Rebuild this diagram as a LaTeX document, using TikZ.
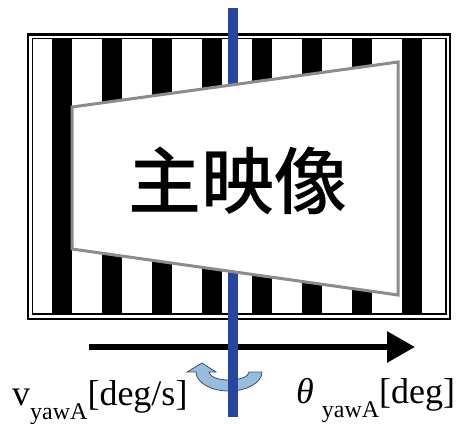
\documentclass[tikz,border=0pt]{standalone}
\usepackage{fontspec}
\setmainfont{Liberation Serif}
\newfontfamily\cjk{Noto Sans CJK JP Medium}
\usetikzlibrary{arrows.meta}
\definecolor{axisblue}{RGB}{40,70,160}
\definecolor{trapgray}{RGB}{140,140,140}
\definecolor{arrowfill}{RGB}{150,190,220}
\definecolor{arrowline}{RGB}{60,80,110}
\tikzset{
  stripe/.style={fill=black},
  screen/.style={draw=trapgray, line width=3pt, fill=white, line join=miter},
  axisline/.style={draw=axisblue, line width=10pt},
  dirarrow/.style={line width=6pt, -{Triangle[length=28pt,width=30pt]}},
  rotarrow/.style={fill=arrowfill, draw=arrowline, line width=0.8pt},
  lbl/.style={inner sep=0pt, anchor=base west},
}
\begin{document}
\begin{tikzpicture}[x=1pt,y=-1pt]
\useasboundingbox (0,0) rectangle (462,423);
% direction arrow
\coordinate (astart) at (89,347);
\coordinate (aend) at (415,347);
\draw[dirarrow] (astart) -- (aend);
% rotation arrow
\path[rotarrow] (262,372) arc[start angle=0,end angle=180,x radius=33,y radius=19]
  -- (187,372) -- (202,363) -- (216,372) -- (209,372)
  arc[start angle=180,end angle=0,x radius=20,y radius=8] -- cycle;
% frame
\draw[line width=2.5pt] (28,34.5) rectangle (450,319);
\draw[line width=1.2pt] (32.5,38.5) rectangle (446,314);
% stripes
\foreach \i in {0,...,7}
  \fill[stripe] (52+50*\i,39) rectangle +(20,274);
% axis
\coordinate (axtop) at (233,8);
\coordinate (axbot) at (233,417);
\draw[axisline] (axtop) -- (axbot);
% screen
\draw[screen] (72,107) -- (398,62) -- (398,295) -- (72,249) -- cycle;
\node[font=\cjk\fontsize{73}{73}\selectfont, inner sep=0pt] (main) at (238,181) {主映像};
% labels
\node[lbl, font=\fontsize{36}{36}\selectfont] (vlab) at (12,405)
  {v\raisebox{-14pt}{\fontsize{24}{24}\selectfont yawA}[deg/s]};
\node[lbl, font=\fontsize{36}{36}\selectfont] (tlab) at (296,403)
  {\textit{θ}\hspace{8pt}\raisebox{-14pt}{\fontsize{24}{24}\selectfont yawA}[deg]};
\end{tikzpicture}
\end{document}
